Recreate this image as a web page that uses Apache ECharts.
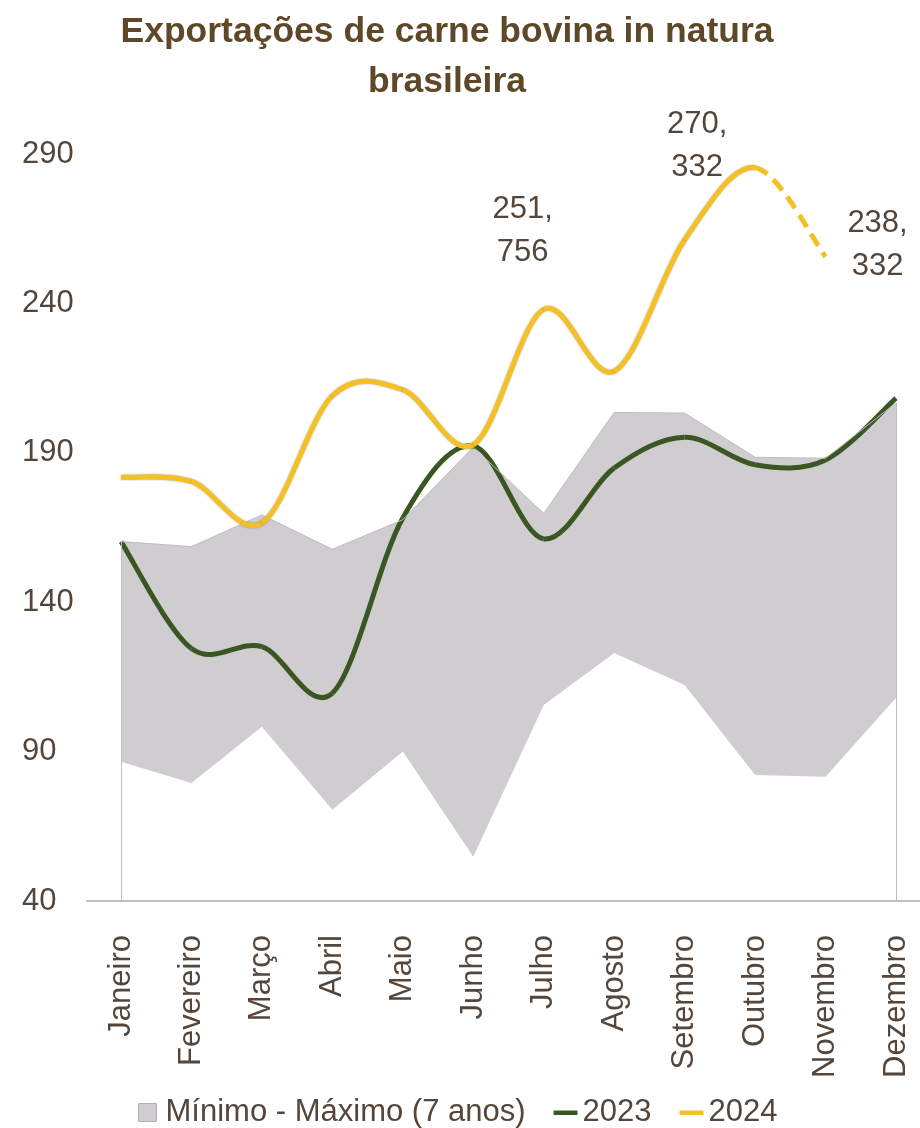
<!DOCTYPE html>
<html>
<head>
<meta charset="utf-8">
<script src="https://cdn.jsdelivr.net/npm/echarts@6/dist/echarts.min.js"></script>
<style>
html,body{margin:0;padding:0;background:#fff;}
#chart{width:920px;height:1128px;}
</style>
</head>
<body>
<div id="chart"></div>
<script>
const months = ['Janeiro','Fevereiro','Março','Abril','Maio','Junho','Julho','Agosto','Setembro','Outubro','Novembro','Dezembro'];
const minVals = [86.6, 79.5, 98.3, 70.5, 90.0, 54.8, 105.6, 123.0, 112.3, 82.2, 81.6, 108.0];
const maxVals = [160.3, 158.6, 169.2, 157.7, 167.6, 191.9, 169.7, 203.5, 203.3, 188.5, 188.2, 206.7];
const y2023 = [160.3, 124.5, 125.1, 109.6, 168.2, 192.3, 161.2, 184.9, 195.2, 186.0, 187.6, 208.3];
const y2024 = [181.8, 180.4, 166.5, 209.1, 211.1, 192.7, 238.0, 217.3, 261.3, 285.4, 255.6, null];
const labels2024 = ['', '', '', '', '', '', '251,\n756', '', '', '270,\n332', '238,\n332', ''];
const yMin = 40, yMax = 290, yStep = 50;
const lastSolid = 9; // Outubro: after it the 2024 line is dashed

const FONT = "'Liberation Sans', Arial, sans-serif";
const FS = 31;
const TXT = '#54463A';
const GREEN = '#3A5723';
const GOLD = '#F4C025';
const GRAY = '#CFCDD0';

const labelOffsets = {6: [-21, -78], 9: [-58, -22], 10: [52, -12]};

// Excel-like smoothed line drawn segment by segment through the axis scales
function smoothSeries(name, vals, color, opts) {
  opts = opts || {};
  let last = vals.length - 1;
  while (last >= 0 && vals[last] == null) last--;
  const data = [];
  for (let i = 0; i <= last; i++) data.push([i, vals[i]]);
  return {
    name: name, type: 'custom', z: opts.z || 3,
    encode: {x: 0, y: 1},
    itemStyle: {color: color},
    data: data,
    silent: true,
    renderItem: function (params, api) {
      const i = api.value(0);
      const children = [];
      if (i < last) {
        const a = Math.max(i - 1, 0), d = Math.min(i + 2, last);
        const p0 = api.coord([a, vals[a]]);
        const p1 = api.coord([i, vals[i]]);
        const p2 = api.coord([i + 1, vals[i + 1]]);
        const p3 = api.coord([d, vals[d]]);
        const t = 1 / 6;
        const dashed = opts.dashFrom != null && i >= opts.dashFrom;
        children.push({
          type: 'bezierCurve',
          shape: {
            x1: p1[0], y1: p1[1], x2: p2[0], y2: p2[1],
            cpx1: p1[0] + (p2[0] - p0[0]) * t, cpy1: p1[1] + (p2[1] - p0[1]) * t,
            cpx2: p2[0] - (p3[0] - p1[0]) * t, cpy2: p2[1] - (p3[1] - p1[1]) * t
          },
          style: Object.assign({
            stroke: color, lineWidth: 5, fill: null, lineCap: 'butt',
            lineDash: dashed ? [14, 8] : null
          }, opts.shadow && !dashed ? {shadowColor: 'rgba(80,70,40,0.45)', shadowBlur: 2} : {})
        });
      }
      if (opts.labels && opts.labels[i]) {
        const p = api.coord([i, vals[i]]);
        const off = labelOffsets[i] || [0, 0];
        children.push({
          type: 'text',
          style: {
            text: opts.labels[i], x: p[0] + off[0], y: p[1] + off[1],
            fill: TXT, fontSize: FS, fontFamily: FONT,
            align: 'center', verticalAlign: 'middle', lineHeight: 43
          }
        });
      }
      return {type: 'group', children: children};
    }
  };
}

const rangeVals = maxVals.map((m, i) => +(m - minVals[i]).toFixed(2));
const lineIcon = 'path://M0,0 L0,0 M0,7 L24,7 L24,11.5 L0,11.5 Z M24,18 L24,18';

const chart = echarts.init(document.getElementById('chart'));
chart.setOption({
  animation: false,
  title: {
    text: 'Exportações de carne bovina in natura\nbrasileira',
    left: 442, top: 2, textAlign: 'center',
    textStyle: {fontFamily: FONT, fontSize: 35.5, fontWeight: 'bold', color: '#5E4828', lineHeight: 50}
  },
  grid: {left: 121, right: 24, top: 154, bottom: 227},
  legend: {
    left: 133, top: 1092,
    itemWidth: 24, itemHeight: 18, itemGap: 28,
    textStyle: {fontFamily: FONT, fontSize: FS, color: TXT},
    data: [
      {name: 'Mínimo - Máximo (7 anos)', icon: 'path://M0,0 L18,0 L18,18 L0,18 Z M20,18 L20,18',
       itemStyle: {color: GRAY, borderColor: '#B0B0B0', borderWidth: 1}},
      {name: '2023', icon: lineIcon, itemStyle: {color: GREEN}},
      {name: '2024', icon: lineIcon, itemStyle: {color: GOLD}}
    ]
  },
  xAxis: {
    type: 'category', data: months, boundaryGap: false,
    axisLine: {show: false},
    axisTick: {show: false},
    axisLabel: {rotate: 90, margin: 34, fontFamily: FONT, fontSize: FS, color: TXT}
  },
  yAxis: {
    type: 'value', min: yMin, max: yMax, interval: yStep,
    splitLine: {show: false}, axisLine: {show: false}, axisTick: {show: false},
    axisLabel: {align: 'left', margin: 99, fontFamily: FONT, fontSize: FS, color: TXT}
  },
  graphic: [{
    type: 'line', z: 5,
    shape: {x1: 86, y1: 901, x2: 920, y2: 901},
    style: {stroke: '#BFBFBF', lineWidth: 2}
  }],
  series: [
    {
      name: 'min', type: 'line', stack: 'band', data: minVals,
      symbol: 'none', lineStyle: {width: 0, opacity: 0},
      areaStyle: {color: '#FFFFFF', opacity: 0}, silent: true
    },
    {
      name: 'Mínimo - Máximo (7 anos)', type: 'line', stack: 'band', data: rangeVals,
      symbol: 'none', lineStyle: {color: '#BDBDBD', width: 1},
      itemStyle: {color: GRAY},
      areaStyle: {color: GRAY, opacity: 1}, silent: true,
      markLine: {
        silent: true, symbol: 'none', label: {show: false},
        lineStyle: {color: '#BDBDBD', width: 1, type: 'solid'},
        data: [
          [{coord: [0, yMin]}, {coord: [0, maxVals[0]]}],
          [{coord: [months.length - 1, yMin]}, {coord: [months.length - 1, maxVals[months.length - 1]]}]
        ]
      }
    },
    smoothSeries('2023', y2023, GREEN, {z: 3}),
    smoothSeries('2024', y2024, GOLD, {z: 4, dashFrom: lastSolid, labels: labels2024, shadow: true})
  ]
});
</script>
</body>
</html>
